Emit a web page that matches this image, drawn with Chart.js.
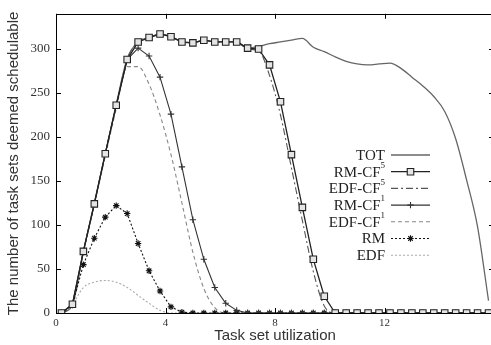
<!DOCTYPE html>
<html><head><meta charset="utf-8">
<style>html,body{margin:0;padding:0;overflow:hidden;background:#fff}
#wrap{width:500px;height:345px;position:relative}</style>
<script src="https://cdn.jsdelivr.net/npm/chart.js@4.4.1/dist/chart.umd.min.js"></script>
</head><body><div id="wrap"><canvas id="c" width="500" height="345"></canvas></div>
<script>
// Task set utilization (x positions of the sampled points)
const utilization = [0.2,0.6,1.0,1.4,1.8,2.2,2.6,3.0,3.4,3.8,4.2,4.6,5.0,5.4,5.8,6.2,6.6,7.0,7.4,7.8,
                     8.2,8.6,9.0,9.4,9.8,10.2,10.6,11.0,11.4,11.8,12.2,12.6,13.0,13.4,13.8,14.2,14.6,15.0,15.4,15.8];
const TOT     = [0,10,70,125,181,237,289,308,313,317,314,308,307,310,308,308,308,301,303,306,
                 308,310,312,302,297,291,286,283,282,283,284,278,268,258,246,229,198,151,98,14];
const RM_CF5  = [0,10,70,124,181,236,288,308,313,317,314,308,307,310,308,308,308,301,300,282,
                 240,180,120,61,19,0,0,0,0,0,0,0,0,0,0,0,0,0,0,0];
const EDF_CF5 = [0,10,70,124,181,236,288,308,313,317,314,308,307,310,308,308,308,300,298,270,
                 225,165,105,47,8,0,0,0,0,0,0,0,0,0,0,0,0,0,0,0];
const RM_CF1  = [0,10,70,124,181,236,288,301,292,268,226,166,106,61,29,11,3,0,0,0,
                 0,0,0,0,0,0,0,0,0,0,0,0,0,0,0,0,0,0,0,0];
const EDF_CF1 = [0,9,68,123,178,232,280,280,260,225,180,125,69,28,6,0,0,0,0,0,
                 0,0,0,0,0,0,0,0,0,0,0,0,0,0,0,0,0,0,0,0];
const RM      = [0,9,55,85,109,122,113,79,48,25,7,1,0,0,0,0,0,0,0,0,
                 0,0,0,0,0,0,0,0,0,0,0,0,0,0,0,0,0,0,0,0];
const EDF     = [0,10,29,35,37,35,29,20,11,3,0,0,0,0,0,0,0,0,0,0,
                 0,0,0,0,0,0,0,0,0,0,0,0,0,0,0,0,0,0,0,0];
const seriesLabels = ['TOT','RM-CF\u2075','EDF-CF\u2075','RM-CF\u00B9','EDF-CF\u00B9','RM','EDF'];
const xTickValues = [0,4,8,12,16];
const xTickLabels = ['0','4','8','12',''];
const yTickValues = [0,50,100,150,200,250,300];
const xTitle = 'Task set utilization';
const yTitle = 'The number of task sets deemed schedulable';

const pts = arr => utilization.map((x,i)=>({x:x, y:arr[i]}));

const styles = [
  {color:'#666', width:1.3, dash:[], point:false, order:6, mono:true},
  {color:'#222', width:1.3, dash:[], point:'rect', radius:4.6, bg:'#e4e4e4', order:0},
  {color:'#555', width:1.1, dash:[7,3,2,3], point:false, order:4, mono:true},
  {color:'#333', width:1.1, dash:[], point:'cross', radius:3.2, bg:'#333', order:1},
  {color:'#888', width:1.1, dash:[4,3], point:false, order:5, mono:true},
  {color:'#111', width:1.1, dash:[2,2], point:'star', radius:3.2, bg:'#111', order:2},
  {color:'#aaa', width:1.1, dash:[2,2], point:false, order:7, mono:true}
];
const series = [TOT, RM_CF5, EDF_CF5, RM_CF1, EDF_CF1, RM, EDF];

const datasets = series.map((arr,i)=>{
  const s = styles[i];
  return {
    label: seriesLabels[i], data: pts(arr),
    borderColor: s.color, borderWidth: s.width, borderDash: s.dash,
    pointStyle: s.point || 'circle', pointRadius: s.point ? s.radius : 0,
    pointBackgroundColor: s.bg || s.color, pointBorderColor: s.color, pointBorderWidth: 1.1,
    pointHoverRadius: 0, fill: false, order: s.order,
    cubicInterpolationMode: s.mono ? 'monotone' : 'default', tension: 0
  };
});

const framePlugin = {
  id: 'frame',
  afterDatasetsDraw(chart){
    const {ctx, chartArea: a, scales} = chart;
    ctx.save();
    ctx.strokeStyle = '#000'; ctx.lineWidth = 1; ctx.setLineDash([]);
    ctx.strokeRect(Math.round(a.left)+0.5, Math.round(a.top)+0.5, Math.round(a.right-a.left), Math.round(a.bottom-a.top));
    const tl = 5;
    ctx.beginPath();
    xTickValues.forEach(v=>{
      const px = Math.round(scales.x.getPixelForValue(v))+0.5;
      ctx.moveTo(px, a.bottom); ctx.lineTo(px, a.bottom - tl);
      ctx.moveTo(px, a.top); ctx.lineTo(px, a.top + tl);
    });
    yTickValues.forEach(v=>{
      const py = Math.round(scales.y.getPixelForValue(v))+0.5;
      ctx.moveTo(a.left, py); ctx.lineTo(a.left + tl, py);
      ctx.moveTo(a.right, py); ctx.lineTo(a.right - tl, py);
    });
    ctx.stroke();

    // legend
    const supMap = {'\u2075':'5','\u00B9':'1'};
    const textRight = 385, lineL = 391, lineR = 430, rowY0 = 155, rowH = 16.7;
    chart.data.datasets.forEach((ds,i)=>{
      const y = rowY0 + i*rowH;
      let label = ds.label, sup = '';
      const last = label.charAt(label.length-1);
      if (supMap[last]) { sup = supMap[last]; label = label.slice(0,-1); }
      ctx.fillStyle = '#222';
      ctx.textBaseline = 'middle';
      ctx.font = '9px "Liberation Serif"';
      const sw = sup ? ctx.measureText(sup).width : 0;
      if (sup) { ctx.textAlign = 'left'; ctx.fillText(sup, textRight - sw, y - 6); }
      ctx.font = '15px "Liberation Serif"';
      ctx.textAlign = 'right';
      ctx.fillText(label, textRight - sw, y + 1);
      ctx.strokeStyle = ds.borderColor; ctx.lineWidth = ds.borderWidth;
      ctx.setLineDash(ds.borderDash);
      ctx.beginPath(); ctx.moveTo(lineL, y); ctx.lineTo(lineR, y); ctx.stroke();
      ctx.setLineDash([]);
      if (ds.pointRadius > 0) {
        ctx.fillStyle = ds.pointBackgroundColor; ctx.strokeStyle = ds.pointBorderColor; ctx.lineWidth = ds.pointBorderWidth;
        Chart.helpers.drawPoint(ctx, {pointStyle: ds.pointStyle, radius: ds.pointRadius, rotation: 0, borderWidth: ds.pointBorderWidth}, (lineL+lineR)/2, y);
      }
    });
    ctx.restore();
  }
};

new Chart(document.getElementById('c'), {
  type: 'line',
  data: { datasets },
  options: {
    responsive: false, animation: false, devicePixelRatio: 1,
    layout: { padding: { top: 7, right: 6, left: 0, bottom: 0 } },
    plugins: { legend: { display: false }, tooltip: { enabled: false } },
    scales: {
      x: {
        type: 'linear', min: 0, max: 16,
        afterBuildTicks: s => { s.ticks = xTickValues.map(v=>({value:v})); },
        afterFit: s => { s.height = 32; },
        grid: { display: false, drawTicks: false }, border: { display: false },
        ticks: { padding: 4, font: { family: '"Liberation Serif"', size: 11 }, color: '#333', maxRotation: 0,
                 callback: (v) => xTickLabels[xTickValues.indexOf(v)] },
        title: { display: true, text: xTitle, font: { family: '"Liberation Sans"', size: 15 }, color: '#333', padding: { top: 0, bottom: 0 } }
      },
      y: {
        min: 0, max: 340,
        afterBuildTicks: s => { s.ticks = yTickValues.map(v=>({value:v})); },
        afterFit: s => { s.width = 56; },
        grid: { display: false, drawTicks: false }, border: { display: false },
        ticks: { padding: 6, font: { family: '"Liberation Serif"', size: 13 }, color: '#333' },
        title: { display: true, text: yTitle, font: { family: '"Liberation Sans"', size: 15 }, color: '#333', padding: { top: 5, bottom: 0 } }
      }
    }
  },
  plugins: [framePlugin]
});
</script></body></html>
